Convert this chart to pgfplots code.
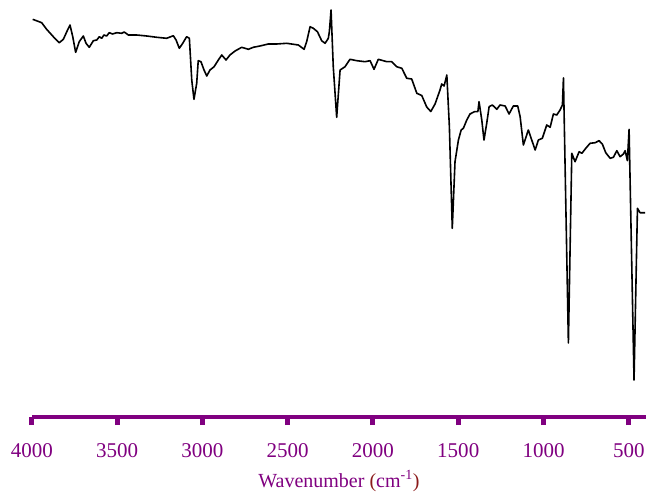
\documentclass[border=0pt]{standalone}
\usepackage{pgfplots}
\pgfplotsset{compat=1.18}
\usepackage{fontspec}
\setmainfont{Liberation Serif}
\definecolor{axpurple}{HTML}{800080}
\definecolor{parred}{HTML}{8B1A1A}
\begin{document}
\begin{tikzpicture}
\begin{axis}[
  name=ax,
  scale only axis,
  width=613.8pt, height=416.5pt,
  xmin=400, xmax=4000, ymin=0, ymax=416.5,
  x dir=reverse,
  axis x line*=bottom,
  hide y axis,
  x axis line style={draw=axpurple, line width=4pt, -},
  xtick={500,1000,...,4000},
  xtick pos=bottom,
  xtick align=outside,
  major tick length=8.5pt,
  major x tick style={draw=axpurple, line width=5pt},
  minor tick num=0,
  /pgf/number format/assume math mode=true,
  /pgf/number format/set thousands separator={},
  xticklabel style={font=\fontsize{21}{25}\selectfont, text=axpurple, inner sep=0pt, anchor=base, yshift=-32.8pt},
  xlabel={\textcolor{axpurple}{Wavenumber }\textcolor{parred}{(}\textcolor{axpurple}{cm\textsuperscript{-1}}\textcolor{parred}{)}},
  xlabel style={font=\fontsize{20}{24}\selectfont, at={(axis description cs:0.5,0)}, anchor=base, yshift=-70.5pt, inner sep=0pt},
  clip=false,
]
\addplot[black, line width=1.6pt, line join=round] coordinates {
(3996,397.2) (3943,393.8) (3914,387.2) (3875,379.8) (3840,373.8) (3816,377.2)
(3796,384.8) (3777,391.5) (3761,379.8) (3744,364.2) (3723,374.8) (3699,380.5)
(3683,373.2) (3664,369.2) (3640,375.8) (3620,376.5) (3605,379.8) (3591,378.2)
(3578,381.5) (3562,380.5) (3547,383.8) (3527,382.5) (3503,383.8) (3474,383.2)
(3459,384.5) (3435,381.5) (3386,381.5) (3327,380.5) (3268,379.2) (3210,378.2)
(3171,380.8) (3155,376.5) (3136,368.2) (3116,373.2) (3093,379.8) (3077,378.2)
(3063,336.5) (3050,317.2) (3034,333.2) (3025,355.8) (3009,354.8) (2991,346.5)
(2975,340.5) (2956,346.5) (2932,349.8) (2907,356.5) (2887,361.5) (2862,356.5)
(2839,361.5) (2809,365.5) (2770,369.2) (2731,367.2) (2702,369.2) (2663,370.5)
(2614,372.5) (2565,372.5) (2506,373.2) (2438,371.5) (2404,367.2) (2389,374.8)
(2369,389.8) (2350,388.2) (2326,384.8) (2301,375.8) (2281,373.2) (2262,378.2)
(2256,384.8) (2246,406.5) (2233,349.8) (2213,299.2) (2193,346.5) (2164,349.8)
(2135,357.2) (2095,355.8) (2047,354.8) (2017,355.8) (1994,347.2) (1969,357.2)
(1919,354.8) (1890,354.8) (1861,349.8) (1831,348.2) (1802,338.2) (1773,337.5)
(1743,323.2) (1714,321) (1685,309.5) (1661,305) (1636,312.5) (1607,326.5)
(1597,332.5) (1583,330.5) (1567,341.5) (1552,289.8) (1535,188.2) (1519,254.8)
(1499,276.5) (1483,286.5) (1470,288.2) (1450,296.5) (1431,302.5) (1405,304.8)
(1385,304.8) (1378,314.8) (1362,296.5) (1349,276.5) (1333,293.2) (1319,309.8)
(1300,311.5) (1274,307.2) (1255,311.5) (1225,310.5) (1202,302.5) (1177,310.5)
(1151,310.5) (1137,299.8) (1118,271.5) (1089,286.5) (1069,276.5) (1049,266.5)
(1030,276.5) (1007,278.2) (981,291.5) (961,289.2) (942,302.5) (922,301.5)
(903,306.5) (889,311.5) (883,338.5) (854,73.5) (834,263.2) (815,254.8)
(791,264.8) (775,263.2) (752,268.2) (727,273.2) (697,273.8) (674,275.8)
(655,272.5) (635,263.8) (609,258.2) (590,259.2) (570,265.8) (551,259.8)
(531,262.5) (521,265.8) (508,255.8) (498,287.2) (469,36.5) (449,208.2)
(434,203.8) (404,203.8)
};
\end{axis}
\pgfresetboundingbox
\path ([xshift=-32pt,yshift=-76.5pt]ax.south west) rectangle ([xshift=2.2pt]ax.north east);
\end{tikzpicture}
\end{document}
